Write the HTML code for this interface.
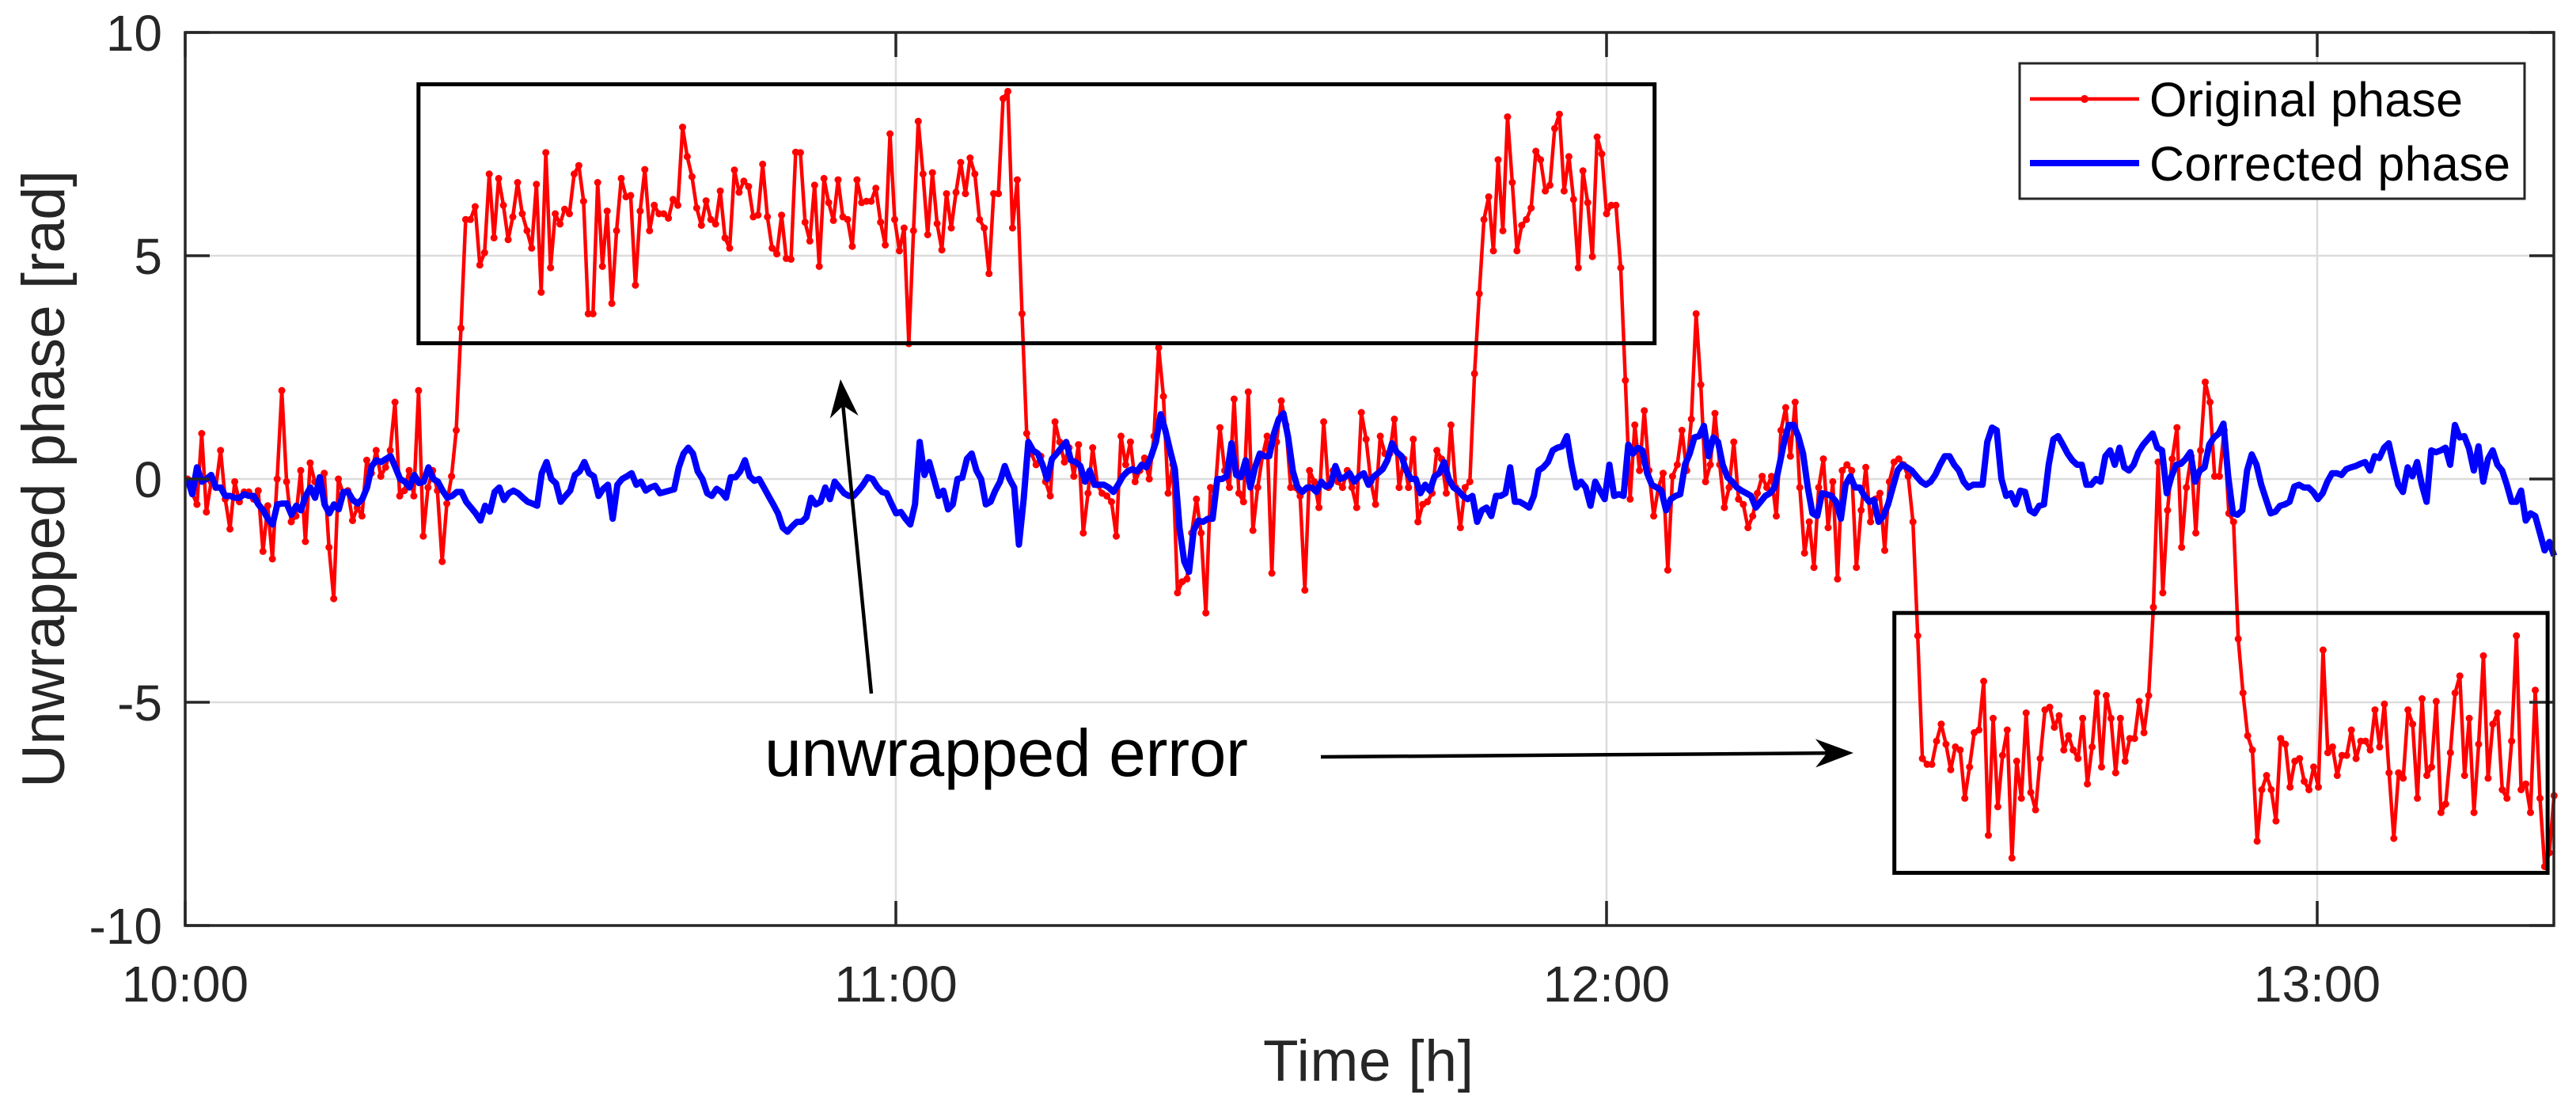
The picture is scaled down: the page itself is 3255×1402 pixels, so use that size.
<!DOCTYPE html>
<html><head><meta charset="utf-8"><style>
html,body{margin:0;padding:0;background:#fff;}
svg{display:block;font-family:"Liberation Sans",Arial,sans-serif;}
</style></head><body>
<svg id="chart" width="3255" height="1402" viewBox="0 0 3255 1402" xmlns="http://www.w3.org/2000/svg">
<rect x="0" y="0" width="3255" height="1402" fill="#fff"/>
<g id="grid"></g>
<g id="series"></g>
<g id="axes"></g>
<g id="annot"></g>
<g id="legend"></g>
</svg>
<script>
const xTickHours = [10, 11, 12, 13];
const xTickLabels = ["10:00", "11:00", "12:00", "13:00"];
const yTickValues = [-10, -5, 0, 5, 10];
const yTickLabels = ["-10", "-5", "0", "5", "10"];
const timeStartMin = 0.2;
const timeEndMin = 200.0;
const redValues = [0,-0.32,-0.57,1.02,-0.74,-0.06,-0.19,0.64,-0.45,-1.12,-0.06,-0.51,-0.29,-0.29,-0.45,-0.26,-1.62,-0.6,-1.79,0,1.98,-0.06,-0.96,-0.83,0.19,-1.4,0.36,-0.06,-0.23,0.13,-1.53,-2.68,0,-0.32,-0.26,-0.93,-0.64,-0.83,0.42,0.13,0.64,0.06,0.26,0.64,1.72,-0.38,-0.26,0.19,-0.38,1.98,-1.28,-0.19,0.19,-0.26,-1.85,-0.55,0.06,1.09,3.38,5.81,5.81,6.1,4.79,5.07,6.83,5.4,6.73,6.13,5.36,5.87,6.64,5.94,5.56,5.17,6.6,4.18,7.31,4.73,5.94,5.71,6.04,5.94,6.83,7.02,6.22,3.7,3.7,6.64,4.76,6.0,3.93,5.56,6.73,6.32,6.35,4.34,6.0,6.93,5.56,6.13,5.94,5.94,5.84,6.26,6.13,7.88,7.22,6.77,6.07,5.68,6.23,5.81,5.71,6.45,5.4,5.17,6.92,6.42,6.67,6.55,5.87,5.91,7.05,5.87,5.17,5.04,5.91,4.94,4.92,7.32,
7.31,5.75,5.33,6.58,4.76,6.73,6.19,5.79,6.7,5.87,5.81,5.21,6.7,6.19,6.22,6.22,6.51,5.75,5.24,7.73,5.81,5.11,5.62,3.03,5.56,8.01,6.83,5.47,6.86,5.72,5.13,6.39,5.62,6.42,7.09,6.39,7.19,6.83,5.81,5.62,4.6,6.39,6.39,8.52,8.68,5.62,6.7,3.7,1.02,0.57,0.32,0.51,-0.06,-0.38,1.28,0.83,0.38,0.7,0.06,0.77,-1.21,-0.32,0.7,-0.13,-0.32,-0.38,-0.51,-1.28,0.96,0.32,0.83,-0.06,0.19,0.47,0,0.96,2.94,1.85,-0.32,0.32,-2.55,-2.3,-2.24,-1.21,-0.45,-1.21,-3.0,-0.19,-0.26,1.15,0.19,-0.19,1.79,-0.32,-0.51,1.95,-1.15,-0.19,0.51,0.96,-2.11,0.83,1.75,1.21,-0.19,-0.19,-0.38,-2.49,0.19,-0.06,-0.64,1.28,-0.19,0.19,-0.06,-0.19,0.19,-0.19,-0.64,1.49,0.89,-0.06,-0.57,0.96,0.57,0.57,1.34,-0.19,0.45,
-0.19,0.89,-0.96,-0.57,-0.51,-0.32,0.64,0.45,-0.32,1.21,-0.19,-1.09,-0.19,-0.06,2.36,4.15,5.81,6.32,5.11,7.15,5.56,8.11,6.64,5.11,5.68,5.81,6.07,7.34,7.15,6.45,6.58,7.85,8.17,6.45,7.22,6.26,4.73,6.9,6.19,4.98,7.66,7.28,5.94,6.13,6.13,4.73,2.21,-0.45,1.21,0.19,1.53,0.19,-0.83,-0.19,0.13,-2.04,0.06,0.32,1.09,0.19,1.34,3.7,2.11,-0.06,0.32,1.47,0.32,-0.64,-0.19,0.83,-0.45,-0.57,-1.09,-0.83,-0.32,0.06,-0.19,0.06,-0.83,1.09,1.6,0.51,1.72,-0.19,-1.66,-0.96,-1.98,-0.19,0.45,-1.09,-0.06,-2.24,0.19,0.32,0.19,-1.98,-0.7,0.26,-0.96,-0.45,-0.32,-1.6,-0.06,0.38,0.45,0.32,0.06,-0.96,-3.51,-6.26,-6.39,-6.39,-5.87,-5.49,-5.94,-6.51,-6.0,-6.07,-7.15,-6.45,-5.68,-5.62,-4.53,-7.98,-5.36,-7.34,-6.19,-5.62,-8.49,
-6.32,-7.15,-5.24,-7.02,-7.41,-6.26,-5.17,-5.11,-5.56,-5.3,-6.07,-5.75,-6.07,-6.26,-5.36,-6.83,-6.0,-4.79,-6.45,-4.85,-5.36,-6.58,-5.36,-6.32,-5.81,-5.81,-4.98,-5.68,-4.85,-2.87,0.38,-2.55,-0.7,0.45,1.15,-1.53,-0.19,0.51,-1.21,0.64,2.17,1.72,0.06,0.06,1.09,-0.77,-0.96,-3.58,-4.79,-5.75,-6.07,-8.11,-6.96,-6.64,-6.96,-7.66,-5.81,-5.94,-6.9,-6.32,-6.26,-6.77,-6.96,-6.45,-6.9,-3.83,-6.13,-6.0,-6.64,-6.19,-6.19,-5.62,-6.26,-5.87,-5.87,-6.07,-5.17,-6.0,-5.04,-6.58,-8.05,-6.58,-6.7,-5.17,-5.49,-7.15,-4.92,-6.64,-6.45,-4.98,-7.47,-7.28,-6.13,-4.79,-4.41,-6.64,-5.36,-7.47,-5.94,-3.96,-6.7,-5.49,-5.24,-6.96,-7.15,-5.87,-3.51,-6.96,-6.83,-7.47,-4.73,-7.15,-8.68,-8.37,-7.09];
const blueValues = [0,-0.34,0.26,-0.06,0,0.09,-0.19,-0.19,-0.38,-0.38,-0.42,-0.42,-0.34,-0.38,-0.38,-0.57,-0.7,-0.89,-1.02,-0.57,-0.55,-0.55,-0.8,-0.6,-0.7,-0.38,-0.19,-0.42,0.04,-0.57,-0.77,-0.57,-0.68,-0.29,-0.29,-0.47,-0.55,-0.45,-0.19,0.29,0.42,0.38,0.45,0.51,0.26,0,-0.06,-0.19,0.09,-0.09,-0.06,0.26,0,-0.06,-0.26,-0.42,-0.38,-0.29,-0.29,-0.51,-0.64,-0.77,-0.93,-0.6,-0.73,-0.29,-0.19,-0.47,-0.32,-0.26,-0.32,-0.42,-0.51,-0.55,-0.6,0.13,0.38,0,-0.1,-0.51,-0.38,-0.26,0.09,0.17,0.38,0.13,0.06,-0.38,-0.22,-0.13,-0.89,-0.13,0,0.06,0.13,-0.13,-0.06,-0.26,-0.19,-0.15,-0.32,-0.29,-0.26,-0.23,0.26,0.57,0.7,0.57,0.17,0,-0.32,-0.38,-0.22,-0.29,-0.42,0.04,0.04,0.17,0.42,0.06,-0.04,0,-0.19,-0.38,-0.57,-0.77,-1.09,-1.18,-1.06,-0.96,
-0.96,-0.86,-0.42,-0.57,-0.51,-0.19,-0.45,-0.06,-0.19,-0.32,-0.38,-0.38,-0.26,-0.13,0.04,0,-0.17,-0.29,-0.32,-0.55,-0.77,-0.74,-0.89,-1.02,-0.57,0.83,0.09,0.38,0,-0.38,-0.26,-0.68,-0.57,0,0.03,0.45,0.57,0.19,0,-0.57,-0.51,-0.26,-0.06,0.29,0,-0.19,-1.47,-0.45,0.83,0.64,0.57,0.32,0,0.45,0.57,0.7,0.83,0.42,0.38,0.29,-0.06,0.19,-0.13,-0.13,-0.13,-0.19,-0.29,-0.13,0.06,0.17,0.22,0.17,0.32,0.26,0.51,0.83,1.45,1.09,0.64,0.22,-1.09,-1.85,-2.08,-1.15,-0.93,-0.96,-0.89,-0.89,0,0,0.06,0.8,0.09,0.04,0.42,-0.19,0.26,0.57,0.51,0.51,1.02,1.34,1.47,0.93,0.17,-0.19,-0.29,-0.19,-0.19,-0.29,-0.06,-0.17,-0.13,0.29,0,0.04,0.13,-0.06,0.06,0.13,-0.13,0.04,0.13,0.22,0.42,0.8,0.6,0.51,0.19,
0,0,-0.32,-0.13,-0.26,0.06,0.13,0.38,0,-0.19,-0.26,-0.38,-0.45,-0.38,-0.96,-0.7,-0.64,-0.83,-0.38,-0.38,-0.32,0.26,-0.51,-0.51,-0.57,-0.64,-0.38,0.19,0.26,0.38,0.64,0.7,0.73,0.96,0.32,-0.19,-0.06,-0.19,-0.6,-0.06,-0.26,-0.45,0.32,-0.38,-0.34,-0.38,0.77,0.57,0.7,0.64,0.13,-0.13,-0.19,-0.26,-0.7,-0.45,-0.38,-0.34,0.32,0.57,0.93,0.96,1.19,0.51,0.93,0.83,0.32,0.04,-0.06,-0.19,-0.26,-0.32,-0.38,-0.64,-0.51,-0.38,-0.32,-0.19,0.32,0.83,1.21,1.21,0.96,0.57,-0.19,-0.77,-0.83,-0.32,-0.34,-0.38,-0.51,-0.89,-0.13,0.06,-0.19,-0.19,-0.38,-0.51,-0.47,-0.96,-0.83,-0.57,-0.19,0.19,0.32,0.26,0.19,0.06,-0.06,-0.13,-0.06,0.09,0.32,0.51,0.51,0.32,0.19,-0.06,-0.19,-0.13,-0.13,-0.13,0.83,1.15,1.09,0,-0.38,-0.32,-0.57,
-0.26,-0.29,-0.7,-0.77,-0.6,-0.57,0.32,0.89,0.96,0.77,0.57,0.42,0.32,0.32,-0.13,-0.13,0,-0.06,0.51,0.64,0.32,0.7,0.26,0.19,0.32,0.6,0.77,0.89,1.02,0.7,0.64,-0.32,0.06,0.32,0.34,0.45,0.6,-0.06,0.19,0.26,0.77,0.93,1.02,1.24,0.06,-0.77,-0.8,-0.7,0.19,0.55,0.32,-0.13,-0.45,-0.77,-0.73,-0.6,-0.57,-0.51,-0.17,-0.13,-0.19,-0.19,-0.29,-0.45,-0.32,-0.06,0.13,0.13,0.09,0.22,0.26,0.29,0.34,0.38,0.19,0.51,0.47,0.7,0.8,0.32,-0.13,-0.29,0.26,0.06,0.38,-0.13,-0.51,0.64,0.6,0.64,0.7,0.32,1.21,0.93,0.96,0.68,0.19,0.73,-0.06,0.45,0.64,0.32,0.19,-0.13,-0.51,-0.51,-0.26,-0.93,-0.77,-0.83,-1.21,-1.6,-1.41,-1.72];
const errorBoxesT = [[10.3283, 12.0676], [12.4050, 13.3242]];
const errorBoxesV = [[3.04, 8.84], [-8.82, -3.0]];

const NS = "http://www.w3.org/2000/svg";
const PL = 234, PR = 3227, PT = 41, PB = 1169;
const xMin = 10, xMax = 10 + (PR - PL) / 898;
const yMin = -10, yMax = 10;
function xs(h) { return PL + (h - xMin) / (xMax - xMin) * (PR - PL); }
function ys(v) { return PB - (v - yMin) / (yMax - yMin) * (PB - PT); }
function mk(tag, attrs, parent) {
  const e = document.createElementNS(NS, tag);
  for (const k in attrs) e.setAttribute(k, attrs[k]);
  parent.appendChild(e);
  return e;
}
const grid = document.getElementById('grid');
const series = document.getElementById('series');
const axes = document.getElementById('axes');
const annot = document.getElementById('annot');
const legend = document.getElementById('legend');

xTickHours.forEach((h, i) => {
  if (i === 0) return;
  const l = mk('line', {x1: xs(h), x2: xs(h), y1: PT, y2: PB, stroke: '#dcdcdc', 'stroke-width': 2.5}, grid);
  
  
});
yTickValues.forEach(v => {
  if (v === yMin || v === yMax) return;
  const l = mk('line', {x1: PL, x2: PR, y1: ys(v), y2: ys(v), stroke: '#dcdcdc', 'stroke-width': 2.5}, grid);
  
  
});

function timeAt(i, n) { return xMin + (timeStartMin + i * (timeEndMin - timeStartMin) / (n - 1)) / 60; }

let dR = '';
redValues.forEach((v, i) => { dR += (i ? 'L' : 'M') + xs(timeAt(i, redValues.length)).toFixed(1) + ',' + ys(v).toFixed(1); });
const redLine = mk('path', {d: dR, fill: 'none', stroke: '#ff0000', 'stroke-width': 4.5, 'stroke-linejoin': 'round'}, series);


const redDots = mk('g', {fill: '#ff0000'}, series);


redValues.forEach((v, i) => {
  const c = mk('circle', {cx: xs(timeAt(i, redValues.length)).toFixed(1), cy: ys(v).toFixed(1), r: 4.5}, redDots);
  
  
});
let dB = '';
blueValues.forEach((v, i) => { dB += (i ? 'L' : 'M') + xs(timeAt(i, blueValues.length)).toFixed(1) + ',' + ys(v).toFixed(1); });
const blueLine = mk('path', {d: dB, fill: 'none', stroke: '#0000ff', 'stroke-width': 8, 'stroke-linejoin': 'round'}, series);



const box = mk('rect', {x: PL, y: PT, width: PR - PL, height: PB - PT, fill: 'none', stroke: '#262626', 'stroke-width': 3.5}, axes);


xTickHours.forEach((h, i) => {
  const x = xs(h);
  const t1 = mk('line', {x1: x, x2: x, y1: PB, y2: PB - 31, stroke: '#262626', 'stroke-width': 3.5}, axes);
  
  
  const t2 = mk('line', {x1: x, x2: x, y1: PT, y2: PT + 31, stroke: '#262626', 'stroke-width': 3.5}, axes);
  
  
  const tx = mk('text', {x: x, y: 1265, 'text-anchor': 'middle', 'font-size': 64, fill: '#262626'}, axes);
  tx.textContent = xTickLabels[i];
  
  
});
yTickValues.forEach((v, i) => {
  const y = ys(v);
  const t1 = mk('line', {x1: PL, x2: PL + 31, y1: y, y2: y, stroke: '#262626', 'stroke-width': 3.5}, axes);
  
  
  const t2 = mk('line', {x1: PR, x2: PR - 31, y1: y, y2: y, stroke: '#262626', 'stroke-width': 3.5}, axes);
  
  
  const tx = mk('text', {x: 205, y: y + 23, 'text-anchor': 'end', 'font-size': 64, fill: '#262626'}, axes);
  tx.textContent = yTickLabels[i];
  
  
});
const xl = mk('text', {x: 1729, y: 1365, 'text-anchor': 'middle', 'font-size': 73, fill: '#262626', textLength: 266}, axes);
xl.textContent = 'Time [h]';


const yl = mk('text', {x: 0, y: 0, 'text-anchor': 'middle', 'font-size': 76, fill: '#262626', textLength: 780, transform: 'translate(81,605) rotate(-90)'}, axes);
yl.textContent = 'Unwrapped phase [rad]';



errorBoxesT.forEach((tr, i) => {
  const x1 = xs(tr[0]), x2 = xs(tr[1]);
  const y1 = ys(errorBoxesV[i][1]), y2 = ys(errorBoxesV[i][0]);
  const r = mk('rect', {x: x1, y: y1, width: x2 - x1, height: y2 - y1, fill: 'none', stroke: '#000', 'stroke-width': 5}, annot);
  
  
});
function arrow(x1, y1, x2, y2, name) {
  const g = mk('g', {}, annot);
  
  
  const dx = x2 - x1, dy = y2 - y1, L = Math.hypot(dx, dy);
  const ux = dx / L, uy = dy / L, px = -uy, py = ux;
  const hl = 48, hw = 18;
  const bx = x2 - ux * hl, by = y2 - uy * hl;
  mk('line', {x1: x1, y1: y1, x2: x2 - ux * 20, y2: y2 - uy * 20, stroke: '#000', 'stroke-width': 4.5}, g);
  const nx = x2 - ux * hl * 0.7, ny = y2 - uy * hl * 0.7;
  mk('polygon', {points: `${x2},${y2} ${bx + px * hw},${by + py * hw} ${nx},${ny} ${bx - px * hw},${by - py * hw}`, fill: '#000'}, g);
}
arrow(1101, 876, 1062, 479, 'arrow-up');
arrow(1669, 956, 2342, 951, 'arrow-right');
const ue = mk('text', {x: 966, y: 980, 'font-size': 84, fill: '#000', textLength: 611}, annot);
ue.textContent = 'unwrapped error';



const lb = mk('rect', {x: 2552, y: 80, width: 638, height: 171, fill: '#fff', stroke: '#262626', 'stroke-width': 3}, legend);


const e1 = mk('g', {}, legend);


mk('line', {x1: 2565, x2: 2703, y1: 125, y2: 125, stroke: '#ff0000', 'stroke-width': 4.5}, e1);
mk('circle', {cx: 2634, cy: 125, r: 5, fill: '#ff0000'}, e1);
const t1 = mk('text', {x: 2716, y: 147, 'font-size': 61, fill: '#000', textLength: 396}, e1);
t1.textContent = 'Original phase';
const e2 = mk('g', {}, legend);


mk('line', {x1: 2565, x2: 2703, y1: 206, y2: 206, stroke: '#0000ff', 'stroke-width': 8}, e2);
const t2 = mk('text', {x: 2716, y: 228, 'font-size': 61, fill: '#000', textLength: 456}, e2);
t2.textContent = 'Corrected phase';
</script>
</body></html>
